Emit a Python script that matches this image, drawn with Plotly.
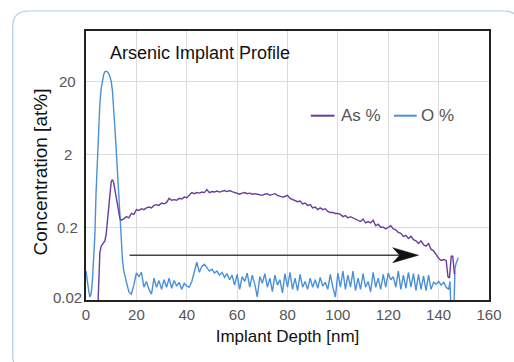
import math
import plotly.graph_objects as go

# ---------------- data ----------------
O_PEAK_DEPTH = [0, 0.5, 1, 1.5, 2, 2.5, 3, 3.5, 4, 4.5, 5, 5.5, 6, 6.5, 7, 7.5,
                8, 8.5, 9, 9.5, 10, 10.5, 11, 11.5, 12, 12.5, 13, 13.5, 14, 14.5, 15, 15.5]
O_PEAK_CONC = [0.05, 0.04, 0.028, 0.022, 0.024, 0.035, 0.07, 0.15, 0.6, 1.8, 5, 10, 16, 21, 25, 27.5,
               28, 27.5, 26, 23.5, 20.5, 15, 9, 4.5, 2.3, 1.1, 0.45, 0.22, 0.12, 0.07, 0.05, 0.042]
O_BODY_DEPTH = list(range(16, 145))
O_BODY_CONC = [
    0.034, 0.026, 0.024, 0.032, 0.047, 0.042, 0.048, 0.03, 0.036, 0.028,
    0.024, 0.04, 0.03, 0.037, 0.028, 0.038, 0.03, 0.04, 0.029, 0.037,
    0.031, 0.035, 0.028, 0.034, 0.031, 0.03, 0.036, 0.05, 0.066, 0.048,
    0.058, 0.062, 0.055, 0.05, 0.053, 0.047, 0.05, 0.044, 0.048, 0.041,
    0.046, 0.038, 0.044, 0.032, 0.045, 0.028, 0.042, 0.036, 0.047, 0.03,
    0.044, 0.033, 0.022, 0.042, 0.034, 0.046, 0.03, 0.04, 0.026, 0.044,
    0.032, 0.038, 0.025, 0.046, 0.03, 0.048, 0.028, 0.04, 0.027, 0.045,
    0.03, 0.036, 0.028, 0.04, 0.03, 0.038, 0.029, 0.041, 0.031, 0.035,
    0.028, 0.045, 0.03, 0.022, 0.047, 0.03, 0.05, 0.028, 0.044, 0.03,
    0.05, 0.027, 0.04, 0.028, 0.046, 0.03, 0.036, 0.026, 0.048, 0.03,
    0.04, 0.028, 0.045, 0.03, 0.047, 0.038, 0.042, 0.03, 0.05, 0.028,
    0.044, 0.029, 0.048, 0.03, 0.046, 0.027, 0.045, 0.028, 0.043, 0.027,
    0.044, 0.028, 0.035, 0.033, 0.036, 0.032, 0.035, 0.03, 0.028]
O_TAIL_DEPTH = [144.5, 145, 145.5, 146, 146.5, 147, 147.8]
O_TAIL_CONC = [0.036, 0.012, 0.01, 0.012, 0.055, 0.065, 0.076]

AS_PEAK_DEPTH = [4.6, 5, 5.5, 6, 6.5, 7, 7.5, 8, 8.5, 9, 9.5, 10, 10.5, 11, 11.5,
                 12, 12.5, 13, 13.5, 14, 14.5]
AS_PEAK_CONC = [0.012, 0.03, 0.09, 0.11, 0.115, 0.12, 0.13, 0.16, 0.25, 0.42, 0.65, 0.85, 0.9,
                0.82, 0.65, 0.5, 0.38, 0.3, 0.26, 0.25, 0.255]
AS_BODY_DEPTH = list(range(15, 144))
AS_BODY_CONC = [
    0.26, 0.28, 0.27, 0.31, 0.3, 0.35, 0.34, 0.36, 0.35, 0.37,
    0.38, 0.37, 0.4, 0.41, 0.4, 0.43, 0.42, 0.44, 0.5, 0.47,
    0.48, 0.47, 0.5, 0.49, 0.52, 0.51, 0.55, 0.6, 0.58, 0.6,
    0.59, 0.61, 0.6, 0.66, 0.6, 0.62, 0.61, 0.63, 0.61, 0.63,
    0.64, 0.62, 0.64, 0.62, 0.6, 0.58, 0.57, 0.59, 0.6, 0.58,
    0.59, 0.57, 0.58, 0.57, 0.56, 0.55, 0.57, 0.58, 0.55, 0.57,
    0.58, 0.55, 0.53, 0.52, 0.53, 0.55, 0.5, 0.48, 0.47, 0.45,
    0.46, 0.42, 0.43, 0.4, 0.41, 0.37, 0.38, 0.35, 0.37, 0.35,
    0.36, 0.33, 0.32, 0.32, 0.31, 0.31, 0.3, 0.28, 0.29, 0.27,
    0.28, 0.27, 0.26, 0.25, 0.24, 0.26, 0.23, 0.24, 0.23, 0.25,
    0.21, 0.22, 0.2, 0.2, 0.19, 0.2, 0.21, 0.19, 0.185, 0.17,
    0.165, 0.15, 0.155, 0.14, 0.15, 0.135, 0.13, 0.12, 0.13, 0.115,
    0.11, 0.12, 0.1, 0.095, 0.085, 0.075, 0.07, 0.072, 0.07]
AS_TAIL_DEPTH = [143.7, 144.3, 145, 145.6, 146.3]
AS_TAIL_CONC = [0.042, 0.04, 0.08, 0.08, 0.045]

X_TICKS = [0, 20, 40, 60, 80, 100, 120, 140, 160]
Y_TICKS = [0.02, 0.2, 2, 20]
Y_TICK_LABELS = ["0.02", "0.2", "2", "20"]

ARROW_START = 17.3
ARROW_END = 132
ARROW_LEVEL = 0.0826

SERIES_NAMES = ["As %", "O %"]

# ---------------- styling / geometry ----------------
W, H = 514, 362
L, R, T, B = 86, 493, 31, 300
X_RANGE = [0, 160]
Y_RANGE = [math.log10(0.02), 2.0]
FONT = "Liberation Sans, Arial, Helvetica, sans-serif"
AS_COLOR = "#6a3d9a"
O_COLOR = "#4a90d9"
GRID = "#dcdcdc"
TICK_COL = "#555555"


def px_x(px):
    return (px - L) / (R - L)


def px_y(py):
    return (B - py) / (B - T)


def dx(x):
    return (x - X_RANGE[0]) / (X_RANGE[1] - X_RANGE[0])


def dy(v):
    return (math.log10(v) - Y_RANGE[0]) / (Y_RANGE[1] - Y_RANGE[0])


o_depth = O_PEAK_DEPTH + O_BODY_DEPTH + O_TAIL_DEPTH
o_conc = O_PEAK_CONC + O_BODY_CONC + O_TAIL_CONC
as_depth = AS_PEAK_DEPTH + AS_BODY_DEPTH + AS_TAIL_DEPTH
as_conc = AS_PEAK_CONC + AS_BODY_CONC + AS_TAIL_CONC

fig = go.Figure()
fig.add_trace(go.Scatter(x=o_depth, y=o_conc, mode="lines", name=SERIES_NAMES[1],
                         line=dict(color=O_COLOR, width=1.4), showlegend=False))
fig.add_trace(go.Scatter(x=as_depth, y=as_conc, mode="lines", name=SERIES_NAMES[0],
                         line=dict(color=AS_COLOR, width=1.4), showlegend=False))

shapes = []
annotations = []

# outer rounded frame
fx0, fy0, fx1, fy1, r = 12, 11, 524, 372, 16
frame = (f"M {px_x(fx0 + r)},{px_y(fy0)} L {px_x(fx1 - r)},{px_y(fy0)} "
         f"Q {px_x(fx1)},{px_y(fy0)} {px_x(fx1)},{px_y(fy0 + r)} "
         f"L {px_x(fx1)},{px_y(fy1 - r)} Q {px_x(fx1)},{px_y(fy1)} {px_x(fx1 - r)},{px_y(fy1)} "
         f"L {px_x(fx0 + r)},{px_y(fy1)} Q {px_x(fx0)},{px_y(fy1)} {px_x(fx0)},{px_y(fy1 - r)} "
         f"L {px_x(fx0)},{px_y(fy0 + r)} Q {px_x(fx0)},{px_y(fy0)} {px_x(fx0 + r)},{px_y(fy0)} Z")
shapes.append(dict(type="path", xref="paper", yref="paper", path=frame,
                   line=dict(color="#a9cfe8", width=1.2), layer="below"))

# arrow: shaft + notched head
tipx, tipy = dx(ARROW_END), dy(ARROW_LEVEL)
head_len = 26 / (R - L)
notch = 19 / (R - L)
half_h = 7.5 / (B - T)
shapes.append(dict(type="line", xref="paper", yref="paper",
                   x0=dx(ARROW_START), x1=tipx - notch, y0=tipy, y1=tipy,
                   line=dict(color="#444444", width=1.5)))
head = (f"M {tipx},{tipy} L {tipx - head_len},{tipy + half_h} "
        f"L {tipx - notch},{tipy} L {tipx - head_len},{tipy - half_h} Z")
shapes.append(dict(type="path", xref="paper", yref="paper", path=head,
                   fillcolor="#111111", line=dict(color="#111111", width=0.5)))

# manual legend
leg_y = px_y(115.7)
for name, col, lx0, lx1, tx in [(SERIES_NAMES[0], AS_COLOR, 313, 337, 342),
                                (SERIES_NAMES[1], O_COLOR, 397, 420, 422)]:
    shapes.append(dict(type="line", xref="paper", yref="paper",
                       x0=px_x(lx0), x1=px_x(lx1), y0=leg_y, y1=leg_y,
                       line=dict(color=col, width=2)))
    annotations.append(dict(xref="paper", yref="paper", x=px_x(tx), y=leg_y,
                            xanchor="left", yanchor="middle", text=name, showarrow=False,
                            font=dict(family=FONT, size=17, color=TICK_COL)))

# y tick labels (centered)
for v, lab in zip(Y_TICKS, Y_TICK_LABELS):
    annotations.append(dict(xref="paper", yref="y", x=px_x(67.5), y=math.log10(v),
                            xanchor="center", yanchor="middle", text=lab, showarrow=False,
                            yshift=3 if v == Y_TICKS[0] else 0,
                            font=dict(family=FONT, size=15, color=TICK_COL)))

# chart title inside plot
annotations.append(dict(xref="paper", yref="paper", x=px_x(108), y=px_y(53),
                        xanchor="left", yanchor="middle", text="Arsenic Implant Profile",
                        showarrow=False, font=dict(family=FONT, size=18, color="#111111")))

# y axis title
annotations.append(dict(xref="paper", yref="paper", x=px_x(40), y=px_y(172),
                        xanchor="center", yanchor="middle", text="Concentration [at%]",
                        textangle=-90, showarrow=False,
                        font=dict(family=FONT, size=19, color="#111111")))

fig.update_layout(
    width=W, height=H,
    margin=dict(l=L, r=W - R, t=T, b=H - B, pad=0),
    paper_bgcolor="white", plot_bgcolor="white",
    showlegend=False,
    shapes=shapes, annotations=annotations,
    font=dict(family=FONT),
    xaxis=dict(range=X_RANGE, tickvals=X_TICKS, ticks="", showgrid=True, gridcolor=GRID,
               gridwidth=1.3, zeroline=False, showline=True, mirror=True,
               linecolor="#222222", linewidth=1.6,
               tickfont=dict(family=FONT, size=15, color=TICK_COL),
               title=dict(text="Implant Depth [nm]", standoff=8,
                          font=dict(family=FONT, size=17, color="#111111"))),
    yaxis=dict(type="log", range=Y_RANGE, tickvals=Y_TICKS, showticklabels=False, ticks="",
               showgrid=True, gridcolor=GRID, gridwidth=1.3, zeroline=False,
               showline=True, mirror=True, linecolor="#222222", linewidth=1.6),
)

fig.write_html("out.html")
